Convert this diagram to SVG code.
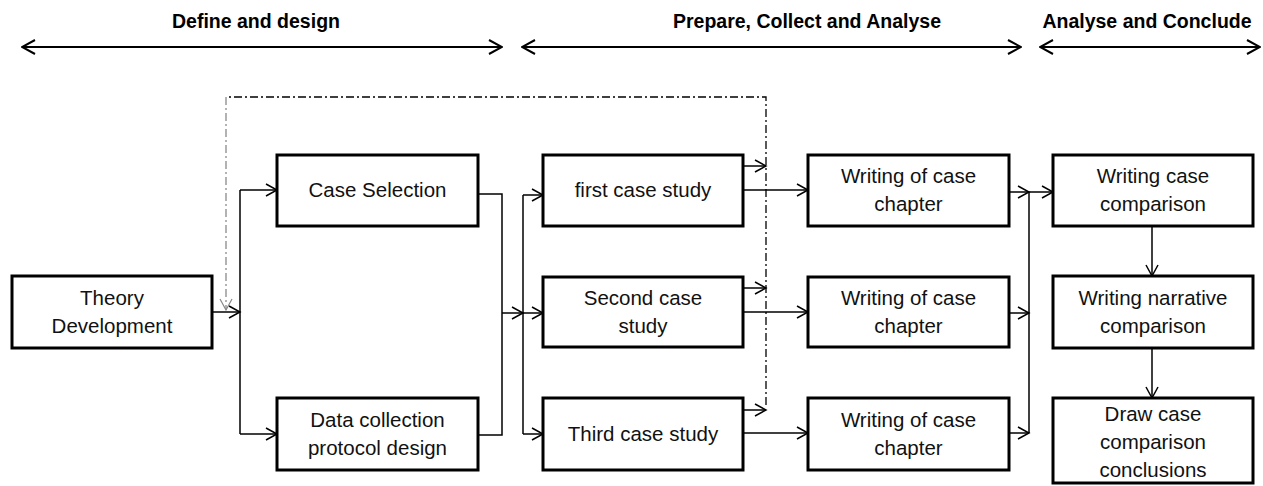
<svg xmlns="http://www.w3.org/2000/svg" width="1263" height="486" viewBox="0 0 1263 486">
<style>
.box{fill:#fff;stroke:#000;stroke-width:3}
.t{font-family:"Liberation Sans",Arial,sans-serif;font-size:20.5px;fill:#111;text-anchor:middle}
.h{font-family:"Liberation Sans",Arial,sans-serif;font-size:19.5px;font-weight:bold;fill:#000;text-anchor:middle}
.c{fill:none;stroke:#000;stroke-width:1.5}
.ca{fill:none;stroke:#000;stroke-width:1.5;marker-end:url(#a)}
.dd{fill:none;stroke:#000;stroke-width:1.3;stroke-dasharray:8,3,2,3}
.ph{fill:none;stroke:#000;stroke-width:2;marker-start:url(#p);marker-end:url(#p)}
</style>
<defs>
<marker id="a" viewBox="0 0 14 14" refX="12.5" refY="7" markerWidth="14" markerHeight="14" markerUnits="userSpaceOnUse" orient="auto">
<path d="M1.5,1 L12.5,7 L1.5,13" fill="none" stroke="#000" stroke-width="1.5"/>
</marker>
<marker id="g" viewBox="0 0 14 14" refX="12.5" refY="7" markerWidth="14" markerHeight="14" markerUnits="userSpaceOnUse" orient="auto">
<path d="M1.5,1 L12.5,7 L1.5,13" fill="none" stroke="#888" stroke-width="1.2"/>
</marker>
<marker id="p" viewBox="0 0 16 16" refX="15" refY="8" markerWidth="16" markerHeight="16" markerUnits="userSpaceOnUse" orient="auto-start-reverse">
<path d="M2,1 L15,8 L2,15" fill="none" stroke="#000" stroke-width="2"/>
</marker>
</defs>

<g id="phases">
<text class="h" x="256" y="28">Define and design</text>
<line class="ph" x1="22" y1="47" x2="502" y2="47"/>
<text class="h" x="807" y="28">Prepare, Collect and Analyse</text>
<line class="ph" x1="522" y1="47" x2="1021" y2="47"/>
<text class="h" x="1147" y="28">Analyse and Conclude</text>
<line class="ph" x1="1040" y1="47" x2="1260" y2="47"/>
</g>

<g id="connectors">
<path class="ca" d="M212,312 H240"/>
<path class="c" d="M240,190 V434"/>
<path class="ca" d="M240,190 H277"/>
<path class="ca" d="M240,434 H277"/>
<path class="c" d="M478,194 H502 V435 H478"/>
<path class="ca" d="M502,313 H523"/>
<path class="c" d="M523,195 V434"/>
<path class="ca" d="M523,195 H543"/>
<path class="ca" d="M523,313 H543"/>
<path class="ca" d="M523,434 H543"/>
<path class="ca" d="M743,190 H808"/>
<path class="ca" d="M743,312 H808"/>
<path class="ca" d="M743,433 H808"/>
<path class="ca" d="M743,166 H766"/>
<path class="ca" d="M743,288 H766"/>
<path class="ca" d="M743,410 H766"/>
<path class="ca" d="M1009,192 H1029"/>
<path class="ca" d="M1009,313 H1029"/>
<path class="ca" d="M1009,433 H1029"/>
<path class="c" d="M1029,192 V433"/>
<path class="ca" d="M1029,192 H1053"/>
<path class="ca" d="M1152,226 V276"/>
<path class="ca" d="M1152,348 V398"/>
<path class="dd" d="M766,405 V97 H226"/>
<path d="M226,97 V310" fill="none" stroke="#666" stroke-width="1" stroke-dasharray="8,3,2,3" marker-end="url(#g)"/>
</g>

<g id="theory"><rect class="box" x="12" y="276" width="200" height="72"/><text class="t" x="112" y="305">Theory</text><text class="t" x="112" y="333">Development</text></g>
<g id="case-selection"><rect class="box" x="277" y="155" width="201" height="71"/><text class="t" x="377.5" y="197">Case Selection</text></g>
<g id="data-collection"><rect class="box" x="277" y="398" width="201" height="72"/><text class="t" x="377.5" y="427">Data collection</text><text class="t" x="377.5" y="455">protocol design</text></g>
<g id="first-case"><rect class="box" x="543" y="155" width="200" height="71"/><text class="t" x="643" y="197">first case study</text></g>
<g id="second-case"><rect class="box" x="543" y="277" width="200" height="70"/><text class="t" x="643" y="305">Second case</text><text class="t" x="643" y="333">study</text></g>
<g id="third-case"><rect class="box" x="543" y="398" width="200" height="72"/><text class="t" x="643" y="441">Third case study</text></g>
<g id="writing-1"><rect class="box" x="808" y="155" width="201" height="71"/><text class="t" x="908.5" y="183">Writing of case</text><text class="t" x="908.5" y="211">chapter</text></g>
<g id="writing-2"><rect class="box" x="808" y="277" width="201" height="70"/><text class="t" x="908.5" y="305">Writing of case</text><text class="t" x="908.5" y="333">chapter</text></g>
<g id="writing-3"><rect class="box" x="808" y="398" width="201" height="72"/><text class="t" x="908.5" y="427">Writing of case</text><text class="t" x="908.5" y="455">chapter</text></g>
<g id="case-comparison"><rect class="box" x="1053" y="155" width="200" height="71"/><text class="t" x="1153" y="183">Writing case</text><text class="t" x="1153" y="211">comparison</text></g>
<g id="narrative-comparison"><rect class="box" x="1053" y="276" width="200" height="72"/><text class="t" x="1153" y="305">Writing narrative</text><text class="t" x="1153" y="333">comparison</text></g>
<g id="conclusions"><rect class="box" x="1053" y="398" width="200" height="85"/><text class="t" x="1153" y="421">Draw case</text><text class="t" x="1153" y="449">comparison</text><text class="t" x="1153" y="477">conclusions</text></g>
</svg>
